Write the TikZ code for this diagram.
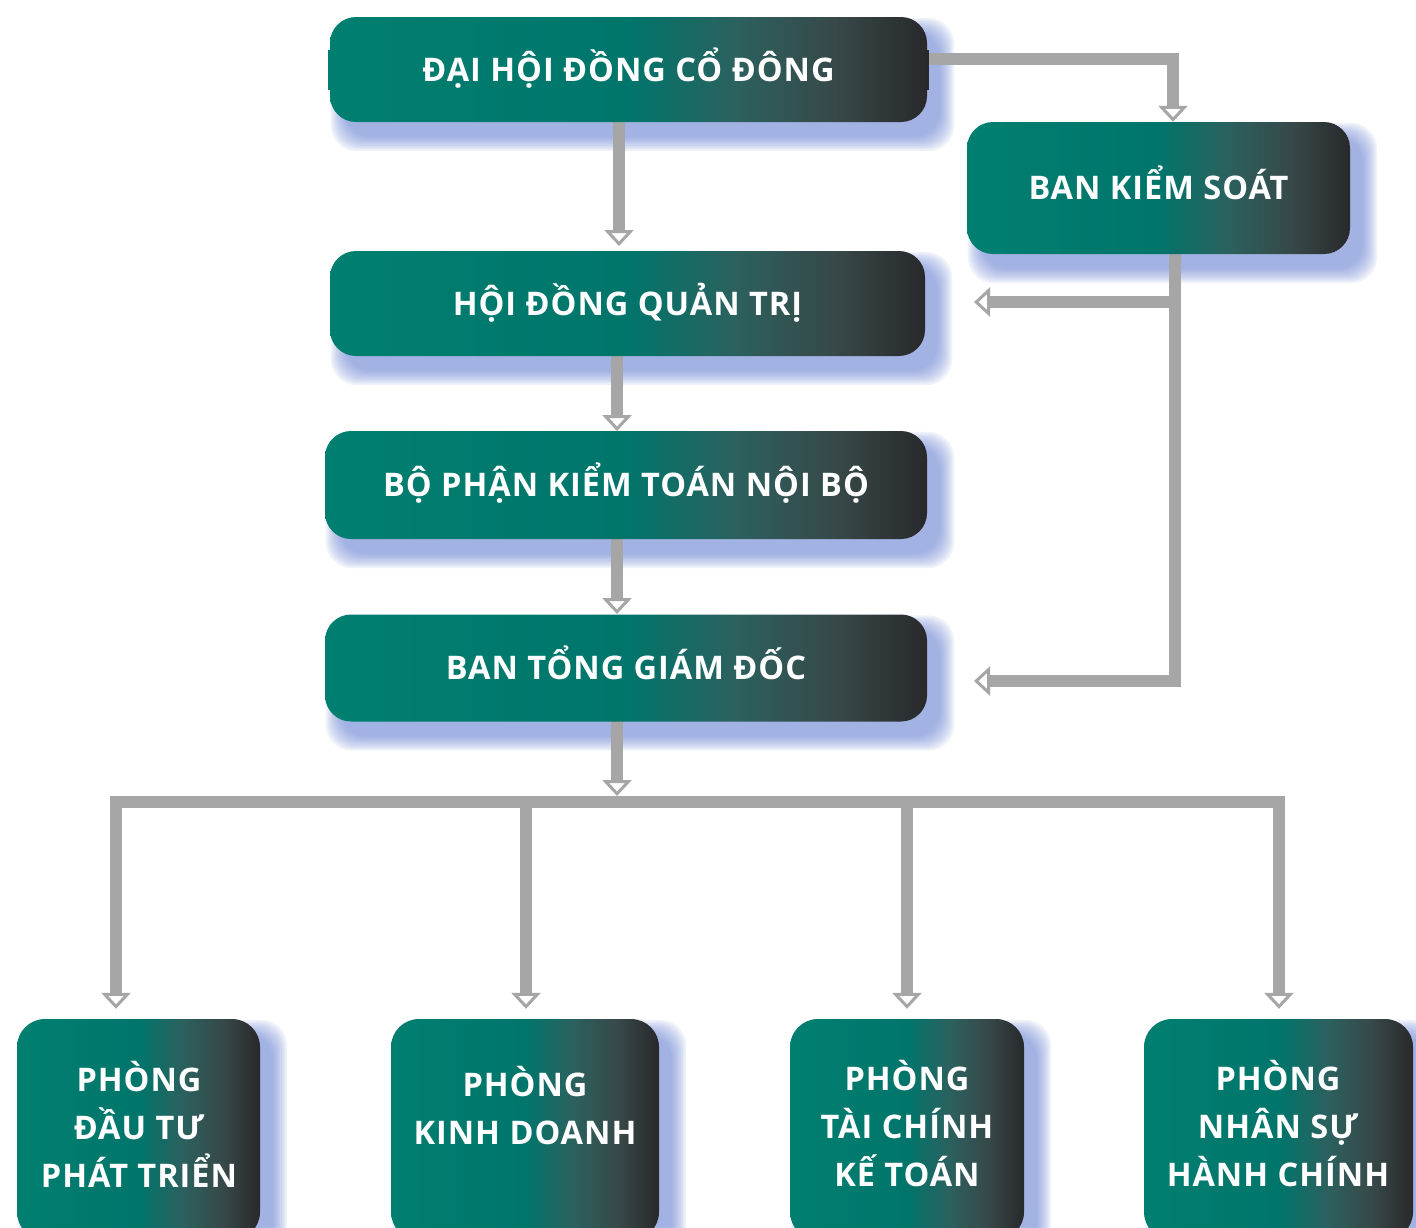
\documentclass[tikz,border=0pt]{standalone}
\usepackage{fontspec}
\newfontfamily\boxfont{Open Sans}[LetterSpace=3]
\usetikzlibrary{arrows.meta,calc}
\definecolor{lineg}{RGB}{166,166,166}
\definecolor{shcol}{RGB}{110,135,215}
\pgfdeclarehorizontalshading{boxshade}{100bp}{%
  rgb(0bp)=(0,0.50,0.44); rgb(25bp)=(0,0.50,0.44); rgb(50bp)=(0,0.46,0.42);
  rgb(59bp)=(0.17,0.38,0.37); rgb(67.5bp)=(0.216,0.282,0.282);
  rgb(75bp)=(0.16,0.16,0.17); rgb(100bp)=(0.16,0.16,0.17)}
\pgfdeclarelayer{bglayer}
\pgfdeclarelayer{shadowlayer}
\pgfdeclarelayer{linelayer}
\pgfsetlayers{bglayer,shadowlayer,linelayer,main}
\tikzset{
  orgbox/.style={shading=boxshade, rounded corners=26pt, text=white,
    font=\boxfont\bfseries\fontsize{32.5}{48}\selectfont, inner sep=0pt,
    text height=23pt, text depth=0pt},
  deptbox/.style={shading=boxshade, rounded corners=28pt, inner sep=0pt},
  deptlabel/.style={text=white, align=center, inner sep=0pt,
    font=\boxfont\bfseries\fontsize{32.5}{48}\selectfont},
  conn/.style={draw=lineg, line width=12pt, line join=miter,
    -{Triangle[fill=white, width=29pt, length=16pt, line width=3pt]}},
  busline/.style={draw=lineg, line width=12pt},
}
\newcommand\dropshadow[1]{%
  \begin{pgfonlayer}{shadowlayer}
  \foreach \d in {14,12.25,...,0}{%
    \fill[shcol, opacity=0.1, rounded corners=26pt]
      ($(#1.north west)+(15-\d,15-\d)$) rectangle ($(#1.south east)+(13+\d,15+\d)$);}
  \end{pgfonlayer}}
\begin{document}
\begin{tikzpicture}[x=1pt,y=-1pt]
\begin{pgfonlayer}{bglayer}
\fill[white] (0,0) rectangle (1416,1227);
\end{pgfonlayer}
\useasboundingbox (0,0) rectangle (1416,1227);
% boxes
\node[orgbox, minimum width=597pt, minimum height=105pt] (A) at (628.5,69.5) {ĐẠI HỘI ĐỒNG CỔ ĐÔNG};
\node[orgbox, minimum width=383pt, minimum height=132pt] (B) at (1158.5,188) {BAN KIỂM SOÁT};
\node[orgbox, minimum width=595pt, minimum height=105pt] (C) at (627.5,303.5) {HỘI ĐỒNG QUẢN TRỊ};
\node[orgbox, minimum width=602pt, minimum height=108pt] (D) at (626,485) {BỘ PHẬN KIỂM TOÁN NỘI BỘ};
\node[orgbox, minimum width=602pt, minimum height=107pt] (E) at (626,668) {BAN TỔNG GIÁM ĐỐC};
\fill[fill={rgb,255:red,0;green,125;blue,112}] ($(A.west)+(-2,-20)$) rectangle ($(A.west)+(1,20)$);
\fill[fill={rgb,255:red,40;green,40;blue,43}] ($(A.east)+(-1,-20)$) rectangle ($(A.east)+(2,20)$);
\node[deptbox, minimum width=243pt, minimum height=221pt] (F1) at (138.5,1129.5) {};
\node[deptbox, minimum width=268pt, minimum height=221pt] (F2) at (525,1129.5) {};
\node[deptbox, minimum width=234pt, minimum height=221pt] (F3) at (907,1129.5) {};
\node[deptbox, minimum width=269pt, minimum height=221pt] (F4) at (1278.5,1129.5) {};
\node[deptlabel] (L1) at (139,1124) {PHÒNG\\ĐẦU TƯ\\PHÁT TRIỂN};
\node[deptlabel] (L2) at (525,1106) {PHÒNG\\KINH DOANH};
\node[deptlabel] (L3) at (907,1124) {PHÒNG\\TÀI CHÍNH\\KẾ TOÁN};
\node[deptlabel] (L4) at (1278,1124) {PHÒNG\\NHÂN SỰ\\HÀNH CHÍNH};
\foreach \n in {A,B,C,D,E,F1,F2,F3,F4}{\dropshadow{\n}}
% connector points
\coordinate (tAC) at (619,246);
\coordinate (kAB) at (1173,59);
\coordinate (bv) at (1175,0);
\coordinate (tBC) at (974,302);
\coordinate (tBE) at (974,681);
\coordinate (tCD) at (617,431);
\coordinate (tDE) at (617,614);
\coordinate (tEB) at (617,796);
\coordinate (busL) at (110,802);
\coordinate (busR) at (1285,802);
\coordinate (s1) at (116,796);
\coordinate (s2) at (526,796);
\coordinate (s3) at (907,796);
\coordinate (s4) at (1279,796);
\begin{pgfonlayer}{linelayer}
\draw[conn] (A.center -| tAC) -- (tAC);
\draw[conn] (A.center |- kAB) -- (kAB) -- (B.north -| kAB);
\draw[conn] (B.center -| bv) -- (bv |- tBE) -- (tBE);
\draw[conn] (bv |- tBC) -- (tBC);
\draw[conn] (C.center -| tCD) -- (tCD);
\draw[conn] (D.center -| tDE) -- (tDE);
\draw[conn] (E.center -| tEB) -- (tEB);
\draw[busline] (busL) -- (busR);
\draw[conn] (s1) -- ([yshift=10pt]F1.north -| s1);
\draw[conn] (s2) -- ([yshift=10pt]F2.north -| s2);
\draw[conn] (s3) -- ([yshift=10pt]F3.north -| s3);
\draw[conn] (s4) -- ([yshift=10pt]F4.north -| s4);
\end{pgfonlayer}
\end{tikzpicture}
\end{document}
